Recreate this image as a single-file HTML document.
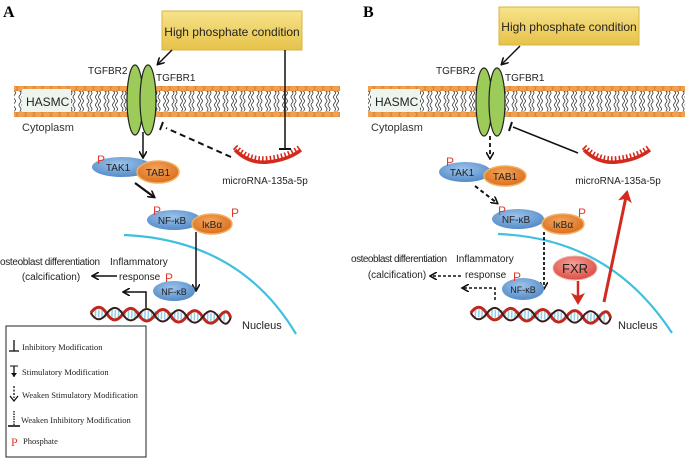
<!DOCTYPE html>
<html><head><meta charset="utf-8"><style>
html,body{margin:0;padding:0;background:#fff;}
svg{display:block;font-family:"Liberation Sans",Arial,sans-serif;}
.lg{font-family:"Liberation Serif",serif;font-size:8.5px;fill:#222;}
</style></head><body>
<svg width="685" height="458" viewBox="0 0 685 458" xmlns="http://www.w3.org/2000/svg">
<defs>
<linearGradient id="hp" x1="0" y1="0" x2="0" y2="1"><stop offset="0" stop-color="#f7e38a"/><stop offset="1" stop-color="#e6c24a"/></linearGradient>
<radialGradient id="blue" cx="0.45" cy="0.35" r="0.7"><stop offset="0" stop-color="#9cc3ea"/><stop offset="1" stop-color="#4f87c6"/></radialGradient>
<radialGradient id="org" cx="0.45" cy="0.35" r="0.7"><stop offset="0" stop-color="#f3a55a"/><stop offset="1" stop-color="#d9691a"/></radialGradient>
<radialGradient id="red" cx="0.45" cy="0.35" r="0.7"><stop offset="0" stop-color="#f5a39a"/><stop offset="1" stop-color="#d9453a"/></radialGradient>
<pattern id="lip" x="0" y="86" width="8.5" height="31" patternUnits="userSpaceOnUse">
<rect x="0" y="0" width="8.5" height="5" fill="#e8913a"/>
<rect x="0" y="26" width="8.5" height="5" fill="#e8913a"/>
<ellipse cx="4.25" cy="2.5" rx="4.1" ry="3" fill="#f0a050" stroke="#d97a25" stroke-width="0.5"/>
<ellipse cx="4.25" cy="28.5" rx="4.1" ry="3" fill="#f0a050" stroke="#d97a25" stroke-width="0.5"/>
<path d="M3 5 q2 2 0 4 q-2 2 0 4 q2 2 0 4 q-2 2 0 4 q2 2 0 4 M6 5 q2 2 0 4 q-2 2 0 4 q2 2 0 4 q-2 2 0 4 q2 2 0 4" fill="none" stroke="#333" stroke-width="0.8"/>
</pattern>
<marker id="ar" markerWidth="8" markerHeight="8" refX="6" refY="4" orient="auto" markerUnits="userSpaceOnUse"><path d="M0,0 L7,4 L0,8" fill="none" stroke="#111" stroke-width="1.6"/></marker>
<marker id="arR" markerWidth="14" markerHeight="14" refX="10" refY="7" orient="auto" markerUnits="userSpaceOnUse"><path d="M0,0 L12,7 L0,14 L3,7z" fill="#d42a1e"/></marker>
<g id="dna">
<path d="M4 7 h132" stroke="#8fd0e8" stroke-width="8" stroke-dasharray="1.5 1.8" />
<path d="M0 7 q8 -12 16 0 t16 0 t16 0 t16 0 t16 0 t16 0 t16 0 t16 0 t12 0" fill="none" stroke="#c0271c" stroke-width="3"/>
<path d="M0 7 q8 12 16 0 t16 0 t16 0 t16 0 t16 0 t16 0 t16 0 t16 0 t12 0" fill="none" stroke="#3a1a1a" stroke-width="2"/>
</g>
<g id="mir">
<path d="M0 -3 q14 14 33 12 q20 -2 33 -12" fill="none" stroke="#d42a1e" stroke-width="6" stroke-dasharray="1.6 2.2"/>
<path d="M0 0 q14 14 33 12 q20 -2 33 -12" fill="none" stroke="#d42a1e" stroke-width="3.5"/>
</g>
</defs>

<!-- ================= PANEL A ================= -->
<text x="3" y="17" font-family="Liberation Serif,serif" font-weight="bold" font-size="16">A</text>
<rect x="14" y="86" width="326" height="31" fill="url(#lip)"/>
<rect x="22" y="89" width="49" height="23" fill="#eef5ee"/>
<text x="26" y="106" font-size="12" fill="#222">HASMC</text>
<text x="22" y="131" font-size="11" fill="#333">Cytoplasm</text>
<rect x="162" y="11" width="140" height="39" fill="url(#hp)" stroke="#d9b440" stroke-width="1"/>
<text x="232" y="36" font-size="12" text-anchor="middle" fill="#222">High phosphate condition</text>
<ellipse cx="135" cy="100" rx="8" ry="35" fill="#9ccb5a" stroke="#222" stroke-width="1.2"/>
<ellipse cx="148" cy="100" rx="8" ry="35" fill="#9ccb5a" stroke="#222" stroke-width="1.2"/>
<text x="88" y="74" font-size="10" fill="#222">TGFBR2</text>
<text x="156" y="81" font-size="10" fill="#222">TGFBR1</text>
<line x1="172" y1="50" x2="158" y2="64" stroke="#111" stroke-width="1.5" marker-end="url(#ar)"/>
<line x1="285" y1="50" x2="285" y2="149" stroke="#111" stroke-width="1.5"/>
<line x1="279" y1="149" x2="291" y2="149" stroke="#111" stroke-width="2"/>
<line x1="231" y1="157" x2="166" y2="128" stroke="#111" stroke-width="2" stroke-dasharray="6 4"/>
<line x1="163" y1="122" x2="160" y2="130" stroke="#111" stroke-width="2"/>
<use href="#mir" transform="translate(235,150)"/>
<text x="265" y="184" font-size="10" text-anchor="middle" fill="#222">microRNA-135a-5p</text>
<line x1="143" y1="132" x2="143" y2="157" stroke="#111" stroke-width="1.5" marker-end="url(#ar)"/>
<ellipse cx="122" cy="167" rx="30" ry="10" fill="url(#blue)"/>
<text x="118" y="171" font-size="10" text-anchor="middle" fill="#222">TAK1</text>
<ellipse cx="158" cy="172" rx="21" ry="11" fill="url(#org)" stroke="#f0b060" stroke-width="1.5"/>
<text x="158" y="176" font-size="10" text-anchor="middle" fill="#222">TAB1</text>
<text x="97" y="164" font-size="12" fill="#e03a2e">P</text>
<line x1="135" y1="183" x2="154" y2="197" stroke="#111" stroke-width="2.2" marker-end="url(#ar)"/>
<ellipse cx="174" cy="220" rx="27" ry="10" fill="url(#blue)"/>
<text x="172" y="224" font-size="10" text-anchor="middle" fill="#222">NF-κB</text>
<ellipse cx="212" cy="224" rx="20" ry="10" fill="url(#org)" stroke="#f0b060" stroke-width="1.5"/>
<text x="212" y="228" font-size="10" text-anchor="middle" fill="#222">IκBα</text>
<text x="153" y="215" font-size="12" fill="#e03a2e">P</text>
<text x="231" y="217" font-size="12" fill="#e03a2e">P</text>
<path d="M124 235 Q240 240 296 334" fill="none" stroke="#3fc0e0" stroke-width="2.2"/>
<line x1="196" y1="232" x2="196" y2="290" stroke="#111" stroke-width="1.5" marker-end="url(#ar)"/>
<ellipse cx="174" cy="291" rx="21" ry="10" fill="url(#blue)"/>
<text x="174" y="295" font-size="9" text-anchor="middle" fill="#222">NF-κB</text>
<text x="165" y="282" font-size="12" fill="#e03a2e">P</text>
<text x="0" y="265" font-size="10" fill="#222" textLength="100">osteoblast differentiation</text>
<text x="51" y="280" font-size="10" text-anchor="middle" fill="#222">(calcification)</text>
<text x="110" y="265" font-size="10" fill="#222">Inflammatory</text>
<text x="119" y="280" font-size="10" fill="#222">response</text>
<line x1="117" y1="276" x2="93" y2="276" stroke="#111" stroke-width="1.5" marker-end="url(#ar)"/>
<path d="M146 308 V292 H124" fill="none" stroke="#111" stroke-width="1.5" marker-end="url(#ar)"/>
<use href="#dna" transform="translate(91,306) rotate(2)"/>
<text x="242" y="329" font-size="11" fill="#222">Nucleus</text>

<!-- legend -->
<rect x="6" y="326" width="140" height="131" fill="#fff" stroke="#222" stroke-width="1"/>
<line x1="14" y1="340" x2="14" y2="351" stroke="#111" stroke-width="1.3"/><line x1="9" y1="351" x2="19" y2="351" stroke="#111" stroke-width="1.3"/>
<text class="lg" x="22" y="350">Inhibitory Modification</text>
<line x1="14" y1="366" x2="14" y2="377" stroke="#111" stroke-width="1.3"/><line x1="10" y1="366" x2="18" y2="366" stroke="#111" stroke-width="1"/><path d="M11 373 L14 377 L17 373" fill="#111"/>
<text class="lg" x="22" y="375">Stimulatory Modification</text>
<line x1="14" y1="386" x2="14" y2="398" stroke="#111" stroke-width="1.3" stroke-dasharray="2 1.5"/><path d="M10 396 L14 401 L18 396" fill="none" stroke="#111" stroke-width="1.3"/>
<text class="lg" x="22" y="398">Weaken Stimulatory Modification</text>
<line x1="14" y1="411" x2="14" y2="426" stroke="#111" stroke-width="1.3" stroke-dasharray="1.5 1"/><line x1="8" y1="426" x2="20" y2="426" stroke="#111" stroke-width="1.6"/>
<text class="lg" x="21" y="423">Weaken Inhibitory Modification</text>
<text x="11" y="446" font-family="Liberation Serif,serif" font-size="12" fill="#e03a2e">P</text>
<text class="lg" x="23" y="444">Phosphate</text>

<!-- ================= PANEL B ================= -->
<text x="363" y="17" font-family="Liberation Serif,serif" font-weight="bold" font-size="16">B</text>
<rect x="368" y="86" width="317" height="31" fill="url(#lip)"/>
<rect x="371" y="89" width="49" height="23" fill="#eef5ee"/>
<text x="375" y="106" font-size="12" fill="#222">HASMC</text>
<text x="371" y="131" font-size="11" fill="#333">Cytoplasm</text>
<rect x="499" y="7" width="140" height="38" fill="url(#hp)" stroke="#d9b440" stroke-width="1"/>
<text x="569" y="31" font-size="12" text-anchor="middle" fill="#222">High phosphate condition</text>
<ellipse cx="484" cy="102" rx="8" ry="34" fill="#9ccb5a" stroke="#222" stroke-width="1.2"/>
<ellipse cx="497" cy="102" rx="8" ry="34" fill="#9ccb5a" stroke="#222" stroke-width="1.2"/>
<text x="436" y="74" font-size="10" fill="#222">TGFBR2</text>
<text x="505" y="81" font-size="10" fill="#222">TGFBR1</text>
<line x1="520" y1="46" x2="502" y2="64" stroke="#111" stroke-width="1.5" marker-end="url(#ar)"/>
<line x1="578" y1="153" x2="513" y2="127" stroke="#111" stroke-width="1.5"/>
<line x1="512" y1="122" x2="509" y2="131" stroke="#111" stroke-width="2"/>
<use href="#mir" transform="translate(584,150)"/>
<text x="618" y="184" font-size="10" text-anchor="middle" fill="#222">microRNA-135a-5p</text>
<line x1="490" y1="136" x2="490" y2="158" stroke="#111" stroke-width="1.8" stroke-dasharray="4 3" marker-end="url(#ar)"/>
<ellipse cx="465" cy="172" rx="26" ry="10" fill="url(#blue)"/>
<text x="462" y="176" font-size="10" text-anchor="middle" fill="#222">TAK1</text>
<ellipse cx="505" cy="176" rx="21" ry="10" fill="url(#org)" stroke="#f0b060" stroke-width="1.5"/>
<text x="505" y="180" font-size="10" text-anchor="middle" fill="#222">TAB1</text>
<text x="446" y="166" font-size="12" fill="#e03a2e">P</text>
<line x1="475" y1="186" x2="497" y2="203" stroke="#111" stroke-width="2" stroke-dasharray="4 3" marker-end="url(#ar)"/>
<ellipse cx="518" cy="219" rx="26" ry="10" fill="url(#blue)"/>
<text x="516" y="223" font-size="10" text-anchor="middle" fill="#222">NF-κB</text>
<ellipse cx="563" cy="224" rx="21" ry="10" fill="url(#org)" stroke="#f0b060" stroke-width="1.5"/>
<text x="563" y="228" font-size="10" text-anchor="middle" fill="#222">IκBα</text>
<text x="498" y="215" font-size="12" fill="#e03a2e">P</text>
<text x="578" y="217" font-size="12" fill="#e03a2e">P</text>
<path d="M498 234 Q610 238 672 333" fill="none" stroke="#3fc0e0" stroke-width="2.2"/>
<line x1="544" y1="232" x2="544" y2="288" stroke="#111" stroke-width="1.8" stroke-dasharray="3 2" marker-end="url(#ar)"/>
<ellipse cx="523" cy="289" rx="21" ry="11" fill="url(#blue)"/>
<text x="523" y="293" font-size="9" text-anchor="middle" fill="#222">NF-κB</text>
<text x="513" y="281" font-size="12" fill="#e03a2e">P</text>
<ellipse cx="575" cy="268" rx="22" ry="12" fill="url(#red)" stroke="#f2b3ab" stroke-width="1"/>
<text x="575" y="273" font-size="13" text-anchor="middle" fill="#222">FXR</text>
<line x1="578" y1="281" x2="578" y2="303" stroke="#d42a1e" stroke-width="2.5" marker-end="url(#arR)"/>
<line x1="604" y1="302" x2="627" y2="192" stroke="#d42a1e" stroke-width="3" marker-end="url(#arR)"/>
<text x="351" y="262" font-size="10" fill="#222" textLength="96">osteoblast differentiation</text>
<text x="397" y="278" font-size="10" text-anchor="middle" fill="#222">(calcification)</text>
<text x="456" y="262" font-size="10" fill="#222">Inflammatory</text>
<text x="465" y="278" font-size="10" fill="#222">response</text>
<line x1="461" y1="276" x2="431" y2="276" stroke="#111" stroke-width="1.5" stroke-dasharray="3 2" marker-end="url(#ar)"/>
<path d="M495 300 V288 H463" fill="none" stroke="#111" stroke-width="1.5" stroke-dasharray="3 2" marker-end="url(#ar)"/>
<use href="#dna" transform="translate(471,306) rotate(2)"/>
<text x="618" y="329" font-size="11" fill="#222">Nucleus</text>
</svg>
</body></html>
